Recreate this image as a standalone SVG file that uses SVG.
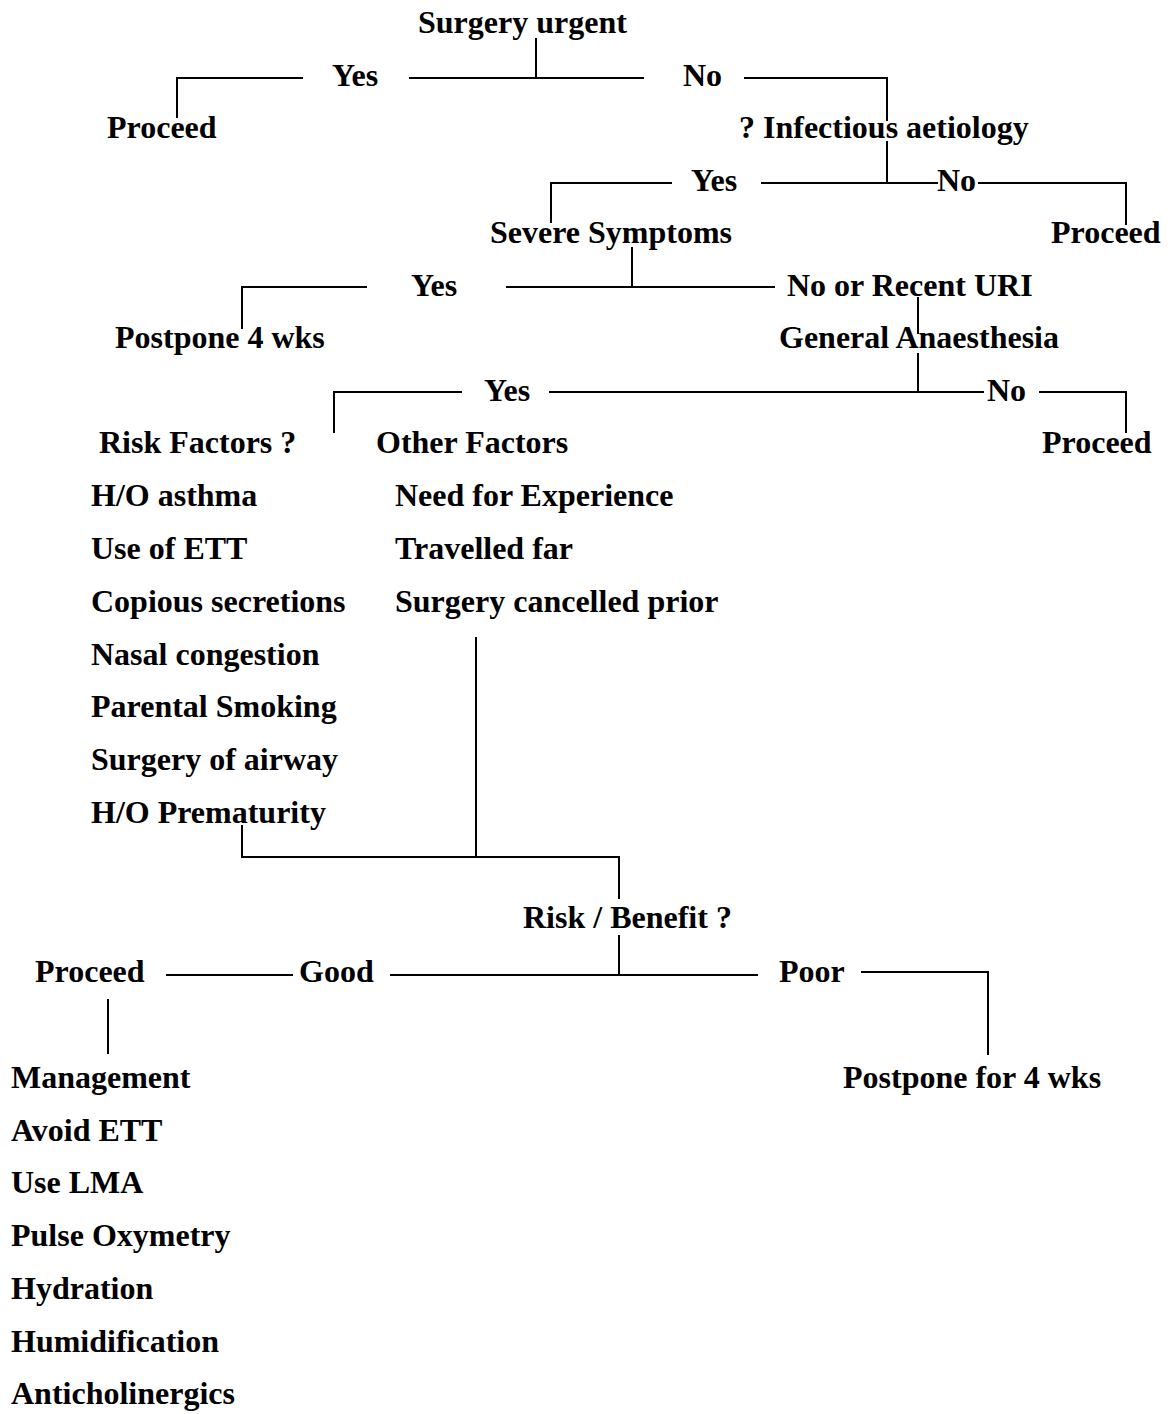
<svg xmlns="http://www.w3.org/2000/svg" width="1170" height="1414" viewBox="0 0 1170 1414">
<style>
text{font-family:"Liberation Serif","Times New Roman",serif;font-weight:bold;font-size:32px;fill:#000}
.c line{stroke:#000;stroke-width:2;stroke-linecap:square}
</style>
<rect width="1170" height="1414" fill="#fff"/>
<g id="connectors" class="c">
<line x1="536" y1="39" x2="536" y2="78"/>
<line x1="410" y1="78" x2="643" y2="78"/>
<line x1="177" y1="78" x2="302" y2="78"/>
<line x1="177" y1="78" x2="177" y2="117"/>
<line x1="745" y1="78" x2="887" y2="78"/>
<line x1="887" y1="78" x2="887" y2="120"/>
<line x1="887" y1="142" x2="887" y2="183"/>
<line x1="551" y1="183" x2="671" y2="183"/>
<line x1="551" y1="183" x2="551" y2="222"/>
<line x1="762" y1="183" x2="937" y2="183"/>
<line x1="979" y1="183" x2="1126" y2="183"/>
<line x1="1126" y1="183" x2="1126" y2="224"/>
<line x1="632" y1="248" x2="632" y2="287"/>
<line x1="507" y1="287" x2="774" y2="287"/>
<line x1="242" y1="287" x2="366" y2="287"/>
<line x1="242" y1="287" x2="242" y2="328"/>
<line x1="918" y1="298" x2="918" y2="333"/>
<line x1="918" y1="354" x2="918" y2="392"/>
<line x1="550" y1="392" x2="983" y2="392"/>
<line x1="334" y1="392" x2="461" y2="392"/>
<line x1="334" y1="392" x2="334" y2="432"/>
<line x1="1040" y1="392" x2="1126" y2="392"/>
<line x1="1126" y1="392" x2="1126" y2="432"/>
<line x1="476" y1="638" x2="476" y2="857"/>
<line x1="242" y1="826" x2="242" y2="857"/>
<line x1="242" y1="857" x2="619" y2="857"/>
<line x1="619" y1="857" x2="619" y2="898"/>
<line x1="619" y1="936" x2="619" y2="975"/>
<line x1="391" y1="975" x2="757" y2="975"/>
<line x1="167" y1="975" x2="292" y2="975"/>
<line x1="862" y1="972" x2="988" y2="972"/>
<line x1="988" y1="972" x2="988" y2="1054"/>
<line x1="108" y1="1000" x2="108" y2="1053"/>
</g>
<g id="n-surgery-urgent"><text x="418" y="33">Surgery urgent</text></g>
<g id="n-yes1"><text x="332" y="86">Yes</text></g>
<g id="n-no1"><text x="683" y="86">No</text></g>
<g id="n-proceed1"><text x="107" y="138">Proceed</text></g>
<g id="n-infectious"><text x="739" y="138">? Infectious aetiology</text></g>
<g id="n-yes2"><text x="691" y="191">Yes</text></g>
<g id="n-no2"><text x="937" y="191">No</text></g>
<g id="n-severe"><text x="490" y="243">Severe Symptoms</text></g>
<g id="n-proceed2"><text x="1051" y="243">Proceed</text></g>
<g id="n-yes3"><text x="411" y="296">Yes</text></g>
<g id="n-no-recent"><text x="787" y="296">No or Recent URI</text></g>
<g id="n-postpone1"><text x="115" y="348">Postpone 4 wks</text></g>
<g id="n-ga"><text x="779" y="348">General Anaesthesia</text></g>
<g id="n-yes4"><text x="484" y="401">Yes</text></g>
<g id="n-no4"><text x="987" y="401">No</text></g>
<g id="n-risk-factors"><text x="99" y="453">Risk Factors ?</text>
<text x="91" y="506">H/O asthma</text>
<text x="91" y="559">Use of ETT</text>
<text x="91" y="612">Copious secretions</text>
<text x="91" y="665">Nasal congestion</text>
<text x="91" y="717">Parental Smoking</text>
<text x="91" y="770">Surgery of airway</text>
<text x="91" y="823">H/O Prematurity</text></g>
<g id="n-other-factors"><text x="376" y="453">Other Factors</text>
<text x="395" y="506">Need for Experience</text>
<text x="395" y="559">Travelled far</text>
<text x="395" y="612">Surgery cancelled prior</text></g>
<g id="n-proceed3"><text x="1042" y="453">Proceed</text></g>
<g id="n-risk-benefit"><text x="523" y="928">Risk / Benefit ?</text></g>
<g id="n-proceed4"><text x="35" y="982">Proceed</text></g>
<g id="n-good"><text x="299" y="982">Good</text></g>
<g id="n-poor"><text x="779" y="982">Poor</text></g>
<g id="n-postpone2"><text x="843" y="1088">Postpone for 4 wks</text></g>
<g id="n-management"><text x="11" y="1088">Management</text>
<text x="11" y="1141">Avoid ETT</text>
<text x="11" y="1193">Use LMA</text>
<text x="11" y="1246">Pulse Oxymetry</text>
<text x="11" y="1299">Hydration</text>
<text x="11" y="1352">Humidification</text>
<text x="11" y="1404">Anticholinergics</text></g>
</svg>
